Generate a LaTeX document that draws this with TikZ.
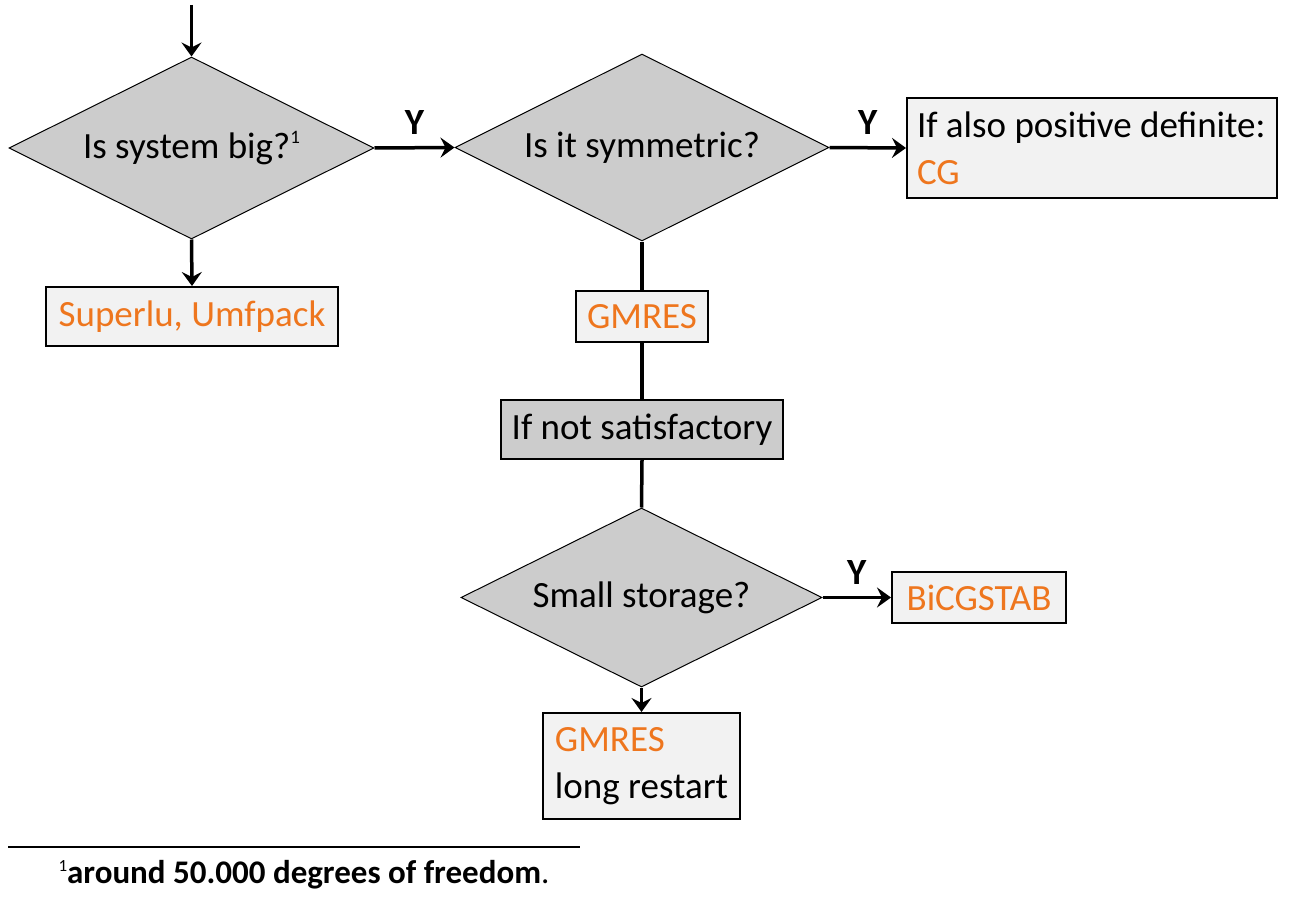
\documentclass[tikz,border=0pt]{standalone}
\usepackage{fontspec}
\setmainfont{Carlito}
\usetikzlibrary{shapes.geometric,arrows.meta}
\definecolor{accent}{RGB}{238,118,30}
\definecolor{dgrey}{RGB}{204,204,204}
\definecolor{lgrey}{RGB}{242,242,242}
\newcommand{\supone}{\raisebox{0.8ex}{\fontsize{19}{19}\selectfont 1}}
\tikzset{
  decision/.style={shape=diamond, draw=black, line width=1pt, fill=dgrey, inner sep=0pt, shape aspect=2},
  resbox/.style={draw=black, line width=2pt, fill=lgrey, inner sep=0pt},
  conn/.style={line width=3.5pt},
  arr/.style={conn, -{Stealth[length=14pt,width=20pt,inset=5pt]}},
  ylab/.style={font=\fontsize{37}{44}\selectfont\bfseries},
  txt/.style={font=\fontsize{37}{47}\selectfont}
}
\begin{document}
\begin{tikzpicture}[x=1pt,y=-1pt]
\useasboundingbox (0,0) rectangle (1289,899);
\node[decision, txt, minimum width=365pt, minimum height=182pt] (d1) at (191.5,148) {Is system big?\supone};
\node[decision, txt, minimum width=374pt, minimum height=187pt] (d2) at (642,147.5) {Is it symmetric?};
\node[decision, txt, minimum width=361pt, minimum height=179pt] (d3) at (641.5,597.5) {Small storage?};
\node[resbox, txt, minimum width=370pt, minimum height=100pt, align=left] (cg) at (1092,148) {\makebox[350pt][l]{If also positive definite:}\\\textcolor{accent}{CG}};
\node[resbox, txt, minimum width=292pt, minimum height=59pt] (su) at (192,316.5) {\textcolor{accent}{Superlu, Umfpack}};
\node[resbox, txt, minimum width=132pt, minimum height=51pt] (gm) at (642,316.5) {\textcolor{accent}{GMRES}};
\node[resbox, txt, fill=dgrey, minimum width=282pt, minimum height=59pt] (ns) at (642,429.5) {If not satisfactory};
\node[resbox, txt, minimum width=197pt, minimum height=106pt, align=left] (gl) at (641.5,766) {\makebox[171pt][l]{\textcolor{accent}{GMRES}}\\long restart};
\node[resbox, txt, minimum width=174pt, minimum height=51pt] (bi) at (979,597.5) {\textcolor{accent}{BiCGSTAB}};
\coordinate (start) at (191.5,5);
\draw[arr] (start) -- (d1.north);
\draw[arr] (d1.east) -- node[ylab, above=8pt] {Y} (d2.west);
\draw[arr] (d2.east) -- node[ylab, above=8pt] {Y} (cg.west);
\draw[arr] (d1.south) -- (su.north);
\draw[conn] (d2.south) -- (gm.north);
\draw[conn] (gm.south) -- (ns.north);
\draw[conn] (ns.south) -- (d3.north);
\draw[arr] (d3.east) -- node[ylab, above=8pt] {Y} (bi.west);
\draw[arr] (d3.south) -- (gl.north);
\coordinate (fa) at (8,847);
\coordinate (fb) at (580,847);
\draw[line width=2pt] (fa) -- (fb);
\node[font=\fontsize{33}{38}\selectfont] (fn) at (304,875) {\raisebox{0.8ex}{\fontsize{17}{17}\selectfont 1}\textbf{around 50.000 degrees of freedom}.};
\end{tikzpicture}
\end{document}
